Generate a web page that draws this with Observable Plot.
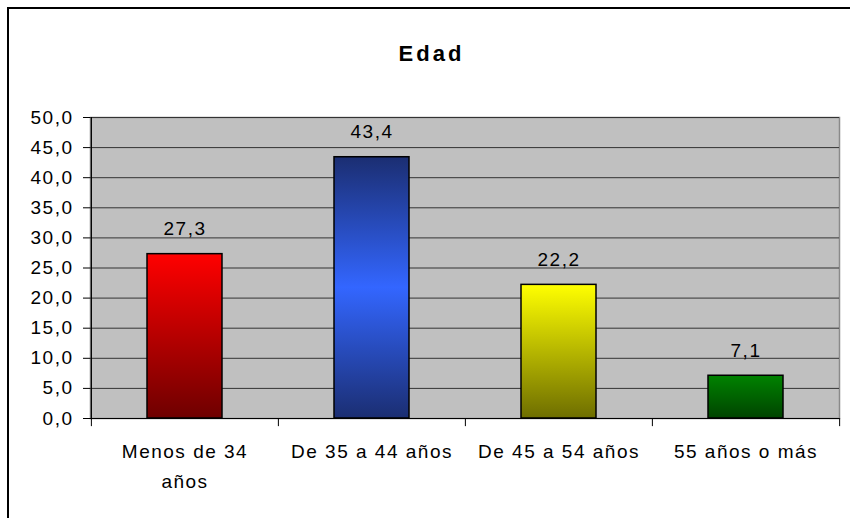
<!DOCTYPE html>
<html>
<head>
<meta charset="utf-8">
<script src="https://cdn.jsdelivr.net/npm/d3@7"></script>
<script src="https://cdn.jsdelivr.net/npm/@observablehq/plot@0.6"></script>
<style>
  html, body { margin: 0; padding: 0; background: #fff; overflow: hidden; }
  #wrap { position: relative; width: 850px; height: 518px; overflow: hidden; }
  #border { position: absolute; left: 7px; top: 7px; width: 900px; height: 600px; border: 2px solid #000; box-sizing: border-box; }
  #chart { position: absolute; left: 0; top: 0; }
  #chart svg { letter-spacing: 1.5px; }
  #chart svg .ttl { letter-spacing: 3px; }
</style>
</head>
<body>
<div id="wrap"><div id="border"></div><div id="chart"></div></div>
<script>
const title = "Edad";
const categories = ["Menos de 34 años", "De 35 a 44 años", "De 45 a 54 años", "55 años o más"];
const tickLabels = ["Menos de 34\naños", "De 35 a 44 años", "De 45 a 54 años", "55 años o más"];
const values = [27.3, 43.4, 22.2, 7.1];
const yTicks = [0, 5, 10, 15, 20, 25, 30, 35, 40, 45, 50];
const gradientIds = ["gRed", "gBlue", "gYellow", "gGreen"];
const gradientStops = [
  [[0, "#ff0000"], [1, "#6e0000"]],
  [[0, "#1b2e72"], [0.5, "#3366ff"], [1, "#1b2e72"]],
  [[0, "#ffff00"], [1, "#6e6e00"]],
  [[0, "#008200"], [1, "#004400"]]
];

const W = 850, H = 518, mL = 90, mR = 11, mT = 117, mB = 100;
const step = (W - mL - mR) / categories.length;
const fmt = (v) => v.toFixed(1).replace(".", ",");
const data = categories.map((c, i) => ({cat: c, value: values[i], grad: `url(#${gradientIds[i]})`, label: tickLabels[i]}));

const defs = () => {
  const d = d3.create("svg:defs");
  gradientIds.forEach((id, i) => {
    const g = d.append("linearGradient").attr("id", id).attr("x1", 0).attr("y1", 0).attr("x2", 0).attr("y2", 1);
    gradientStops[i].forEach(([o, c]) => g.append("stop").attr("offset", o).attr("stop-color", c));
  });
  return d.node();
};

const chart = Plot.plot({
  width: W,
  height: H,
  marginLeft: mL,
  marginRight: mR,
  marginTop: mT,
  marginBottom: mB,
  style: {fontFamily: "'Liberation Sans', Arial, sans-serif", fontSize: "19px", color: "#000", background: "transparent"},
  x: {domain: categories, padding: 0, axis: null},
  y: {domain: [0, 50], axis: null},
  marks: [
    defs,
    Plot.frame({fill: "#c0c0c0", stroke: "#8a8a8a", strokeWidth: 1.5}),
    Plot.ruleY(yTicks.slice(1), {stroke: "#333", strokeWidth: 1}),
    Plot.barY(data, {x: "cat", y: "value", fill: "grad", stroke: "#000", strokeWidth: 1.5, insetLeft: 56, insetRight: 56}),
    Plot.ruleY([0], {stroke: "#000", strokeWidth: 1.2}),
    Plot.ruleX(categories, {x: (d) => d, y1: -1.35, y2: 0, dx: -step / 2, stroke: "#000"}),
    Plot.ruleX([categories[categories.length - 1]], {x: (d) => d, y1: -1.35, y2: 0, dx: step / 2, stroke: "#000"}),
    Plot.ruleX([categories[0]], {x: (d) => d, y1: 0, y2: 50, dx: -step / 2, stroke: "#000", strokeWidth: 1.2}),
    Plot.axisY({ticks: yTicks, tickFormat: fmt, tickSize: 7, tickPadding: 10, fontSize: 19, stroke: "#000", label: null}),
    Plot.text(data, {x: "cat", y: "value", text: (d) => fmt(d.value), lineAnchor: "bottom", dy: -19, fontSize: 19, fill: "#000"}),
    Plot.text(data, {x: "cat", text: "label", frameAnchor: "bottom", lineAnchor: "top", dy: 19, lineHeight: 1.55, fontSize: 19, fill: "#000"}),
    Plot.text([title], {text: (d) => d, frameAnchor: "top", dy: -72, dx: 431 - (mL + (W - mL - mR) / 2), fontSize: 22, fontWeight: "bold", fill: "#000", className: "ttl"})
  ]
});
document.getElementById("chart").appendChild(chart);
</script>
</body>
</html>
